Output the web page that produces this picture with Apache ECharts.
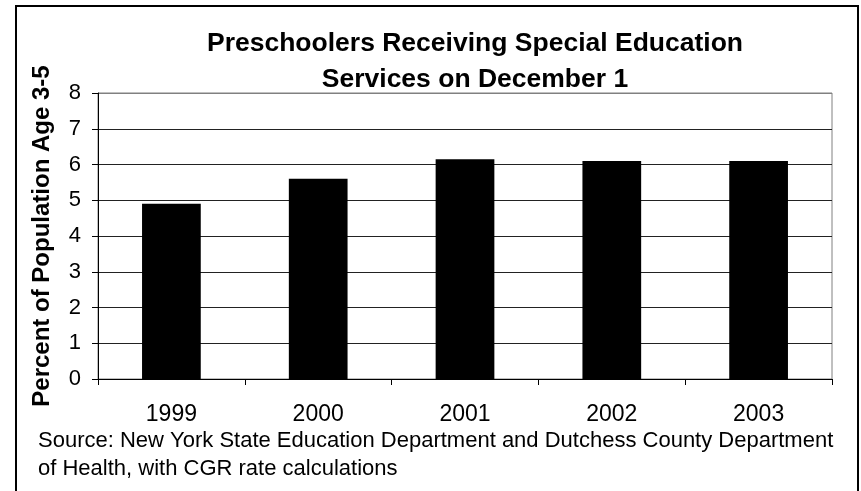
<!DOCTYPE html>
<html>
<head>
<meta charset="utf-8">
<script src="https://cdn.jsdelivr.net/npm/echarts@6/dist/echarts.min.js"></script>
<style>
  html, body { margin: 0; padding: 0; background: #fff; }
</style>
</head>
<body>
<div id="main" style="width: 861px;height:491px;"></div>
<script>
// data
var years = ['1999', '2000', '2001', '2002', '2003'];
var percentValues = [4.9, 5.6, 6.15, 6.1, 6.1];
var yTicks = [0, 1, 2, 3, 4, 5, 6, 7, 8];

var fontFamily = '"Liberation Sans", Arial, sans-serif';

var myChart = echarts.init(document.getElementById('main'));

// gridlines dark, top one (at 8) gray like the plot border
var splitColors = yTicks.map(function (t, i) {
    return i === yTicks.length - 1 ? '#808080' : '#222';
});

myChart.setOption({
    backgroundColor: '#fff',
    animation: false,
    title: {
        text: 'Preschoolers Receiving Special Education\nServices on December 1',
        left: 470,
        top: 21,
        textAlign: 'center',
        textStyle: {
            fontFamily: fontFamily,
            fontSize: 26.5,
            fontWeight: 'bold',
            color: '#000',
            lineHeight: 36
        }
    },
    grid: {
        left: 98,
        right: 29,
        top: 93,
        bottom: 112,
        show: true,
        borderColor: '#808080',
        borderWidth: 1,
        outerBoundsMode: 'none'
    },
    xAxis: {
        type: 'category',
        data: years,
        axisLine: { lineStyle: { color: '#000', width: 1 } },
        axisTick: { show: true, length: 6, lineStyle: { color: '#000' } },
        axisLabel: {
            fontFamily: fontFamily,
            fontSize: 23,
            color: '#000',
            margin: 24
        }
    },
    yAxis: {
        type: 'value',
        min: 0,
        max: 8,
        interval: 1,
        name: 'Percent of Population Age 3-5',
        nameLocation: 'middle',
        nameRotate: 90,
        nameGap: 44,
        nameTextStyle: {
            fontFamily: fontFamily,
            fontSize: 24,
            fontWeight: 'bold',
            color: '#000'
        },
        axisLine: { show: true, lineStyle: { color: '#000', width: 1 } },
        axisTick: { show: true, length: 6, lineStyle: { color: '#000' } },
        axisLabel: {
            fontFamily: fontFamily,
            fontSize: 22,
            color: '#000',
            margin: 17
        },
        splitLine: { show: true, lineStyle: { color: splitColors, width: 1 } }
    },
    series: [
        {
            type: 'bar',
            data: percentValues,
            barWidth: '40%',
            itemStyle: { color: '#000' }
        }
    ],
    graphic: [
        {
            type: 'rect',
            shape: { x: 16, y: 6, width: 842, height: 520 },
            style: { fill: 'none', stroke: '#000', lineWidth: 2 },
            silent: true,
            z: 100
        },
        {
            type: 'text',
            left: 38,
            top: 427,
            style: {
                text: 'Source: New York State Education Department and Dutchess County Department\nof Health, with CGR rate calculations',
                font: '22px ' + fontFamily,
                fill: '#000',
                lineHeight: 28
            }
        }
    ]
});
</script>
</body>
</html>
